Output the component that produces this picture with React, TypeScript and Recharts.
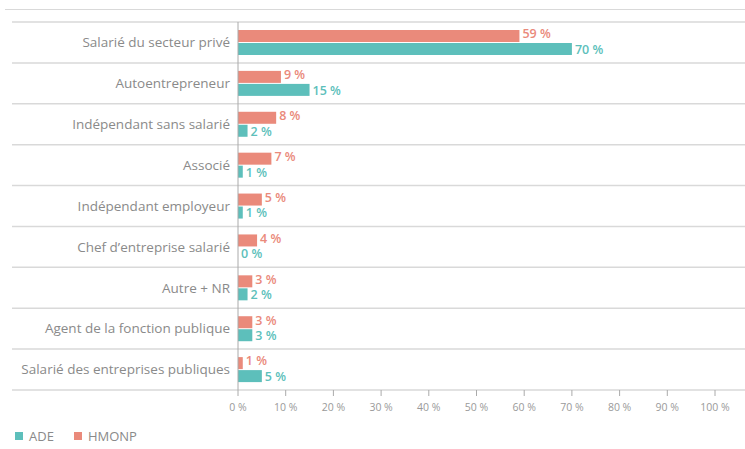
import React from "react";
import { BarChart, Bar, XAxis, YAxis, CartesianGrid } from "recharts";

const categories = [
  "Salarié du secteur privé",
  "Autoentrepreneur",
  "Indépendant sans salarié",
  "Associé",
  "Indépendant employeur",
  "Chef d’entreprise salarié",
  "Autre + NR",
  "Agent de la fonction publique",
  "Salarié des entreprises publiques",
];
const hmonp = [59, 9, 8, 7, 5, 4, 3, 3, 1];
const ade = [70, 15, 2, 1, 1, 0, 2, 3, 5];
const xTicks = [0, 10, 20, 30, 40, 50, 60, 70, 80, 90, 100];

const TEAL = "#5dbfbb";
const SALMON = "#ea8a7b";
const GRAY = "#8a8a8a";
const LINE = "#d9d9d9";
const FONT = "'Open Sans', sans-serif";

const data = categories.map((name, i) => ({
  name,
  hmonp: hmonp[i],
  ade: ade[i],
}));

// bar + value label drawn together so that 0 values still get their label
function barWithLabel(color: string, dy: number) {
  return (props: any) => {
    const { x, y, width, height, value } = props;
    const v = Array.isArray(value) ? value[1] - value[0] : value;
    return (
      <g>
        {width > 0 && (
          <rect x={x} y={y} width={width} height={height} fill={color} />
        )}
        <text
          x={x + Math.max(width, 0) + 3}
          y={y + height / 2 + dy}
          fill={color}
          fontFamily={FONT}
          fontSize={12.5}
          fontWeight={600}
          dominantBaseline="middle"
        >
          {v} %
        </text>
      </g>
    );
  };
}

export default function App() {
  return (
    <div
      style={{
        position: "absolute",
        left: 0,
        top: 0,
        width: 745,
        height: 449,
        background: "#fff",
        fontFamily: FONT,
      }}
    >
      <div
        style={{
          position: "absolute",
          left: 5,
          right: 0,
          top: 9,
          borderTop: `1px solid ${LINE}`,
        }}
      />
      <BarChart
        width={745}
        height={449}
        data={data}
        layout="vertical"
        margin={{ top: 22, right: 30, left: 0, bottom: 29 }}
        barGap={1}
        barSize={12}
      >
        <CartesianGrid
          vertical={false}
          stroke={LINE}
          strokeWidth={1.5}
          x={12}
          width={733}
          horizontalCoordinatesGenerator={({ offset }: any) =>
            Array.from(
              { length: categories.length + 1 },
              (_, i) => offset.top + (i * offset.height) / categories.length
            )
          }
        />
        <XAxis
          type="number"
          domain={[0, 100]}
          ticks={xTicks}
          tickFormatter={(v) => `${v} %`}
          tick={{ fill: "#9a9a9a", fontSize: 10.5, fontFamily: FONT }}
          axisLine={false}
          tickLine={{ stroke: "#aaa" }}
          tickSize={6}
          tickMargin={8}
          height={30}
        />
        <YAxis
          type="category"
          dataKey="name"
          width={238}
          tick={{ fill: GRAY, fontSize: 13.5, fontFamily: FONT }}
          tickLine={false}
          axisLine={{ stroke: "#aaa" }}
          tickMargin={2}
        />
        <Bar
          dataKey="hmonp"
          fill={SALMON}
          isAnimationActive={false}
          shape={barWithLabel(SALMON, -1)}
        />
        <Bar
          dataKey="ade"
          fill={TEAL}
          isAnimationActive={false}
          shape={barWithLabel(TEAL, 1.5)}
        />
      </BarChart>
      <div
        style={{
          position: "absolute",
          left: 15,
          top: 427,
          display: "flex",
          gap: 20,
          fontSize: 13,
          color: GRAY,
        }}
      >
        {[
          ["ADE", TEAL],
          ["HMONP", SALMON],
        ].map(([label, color]) => (
          <div key={label} style={{ display: "flex", alignItems: "center" }}>
            <span
              style={{
                width: 8,
                height: 8,
                background: color,
                display: "inline-block",
                marginRight: 6,
              }}
            />
            {label}
          </div>
        ))}
      </div>
    </div>
  );
}
